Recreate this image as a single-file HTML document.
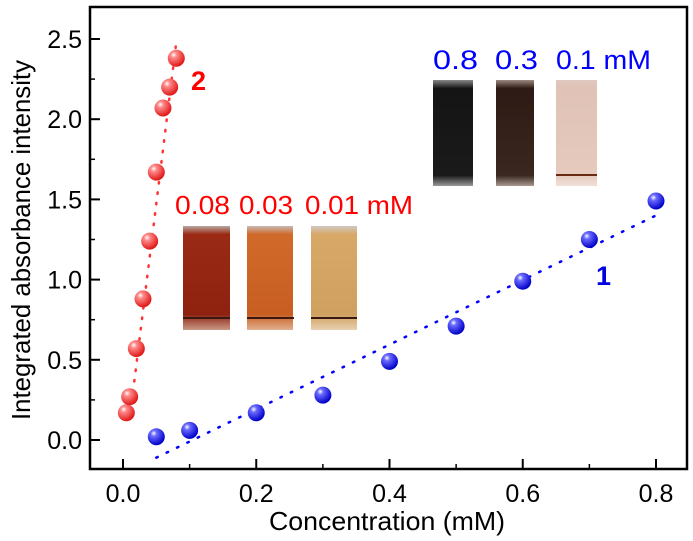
<!DOCTYPE html>
<html><head><meta charset="utf-8"><style>
body{margin:0;background:#fff;}
svg{display:block;font-family:"Liberation Sans",Arial,sans-serif;}
text{font-family:"Liberation Sans",Arial,sans-serif;}
</style></head><body>
<svg id="chart" width="693" height="541" viewBox="0 0 693 541">
<defs>
<radialGradient id="gr" cx="0.35" cy="0.3" r="0.7"><stop offset="0" stop-color="#fff"/><stop offset="0.25" stop-color="#ff8a8a"/><stop offset="1" stop-color="#e01818"/></radialGradient>
<radialGradient id="gb" cx="0.35" cy="0.3" r="0.7"><stop offset="0" stop-color="#fff"/><stop offset="0.25" stop-color="#6a6aff"/><stop offset="1" stop-color="#0000c8"/></radialGradient>
<linearGradient id="v1" x1="0" x2="0" y1="0" y2="1"><stop offset="0" stop-color="#b8a8a0"/><stop offset="0.08" stop-color="#9a2a14"/><stop offset="0.85" stop-color="#8e2210"/><stop offset="1" stop-color="#c89a86"/></linearGradient>
<linearGradient id="v2" x1="0" x2="0" y1="0" y2="1"><stop offset="0" stop-color="#c8b8b0"/><stop offset="0.08" stop-color="#d06a2a"/><stop offset="0.85" stop-color="#c85e22"/><stop offset="1" stop-color="#e0b090"/></linearGradient>
<linearGradient id="v3" x1="0" x2="0" y1="0" y2="1"><stop offset="0" stop-color="#d0c8c0"/><stop offset="0.08" stop-color="#d8a868"/><stop offset="0.85" stop-color="#d0a060"/><stop offset="1" stop-color="#e8d0b0"/></linearGradient>
<linearGradient id="v4" x1="0" x2="0" y1="0" y2="1"><stop offset="0" stop-color="#888"/><stop offset="0.08" stop-color="#141414"/><stop offset="0.9" stop-color="#1a1a1a"/><stop offset="1" stop-color="#999"/></linearGradient>
<linearGradient id="v5" x1="0" x2="0" y1="0" y2="1"><stop offset="0" stop-color="#9a8a80"/><stop offset="0.08" stop-color="#2e1a14"/><stop offset="0.9" stop-color="#3a2820"/><stop offset="1" stop-color="#a89890"/></linearGradient>
<linearGradient id="v6" x1="0" x2="0" y1="0" y2="1"><stop offset="0" stop-color="#e0c8c0"/><stop offset="0.08" stop-color="#e0c2b6"/><stop offset="0.9" stop-color="#e6cabe"/><stop offset="1" stop-color="#f0e0d8"/></linearGradient>
</defs>
<g id="insets">
<text x="175" y="214" fill="#f00" style="font-size:26px" textLength="55" lengthAdjust="spacingAndGlyphs">0.08</text>
<text x="239" y="214" fill="#f00" style="font-size:26px" textLength="54" lengthAdjust="spacingAndGlyphs">0.03</text>
<text x="305" y="214" fill="#f00" style="font-size:26px" textLength="108" lengthAdjust="spacingAndGlyphs">0.01 mM</text>
<rect x="183" y="226" width="47" height="104" fill="url(#v1)"/>
<rect x="247" y="226" width="46" height="104" fill="url(#v2)"/>
<rect x="311" y="226" width="46" height="104" fill="url(#v3)"/>
<line x1="183" y1="318" x2="357" y2="318" stroke="#3a1a10" stroke-width="2" stroke-dasharray="47 17"/>
<text x="433" y="69" fill="#00f" style="font-size:27px" textLength="45" lengthAdjust="spacingAndGlyphs">0.8</text>
<text x="495" y="69" fill="#00f" style="font-size:27px" textLength="43" lengthAdjust="spacingAndGlyphs">0.3</text>
<text x="556" y="69" fill="#00f" style="font-size:27px" textLength="95" lengthAdjust="spacingAndGlyphs">0.1 mM</text>
<rect x="433" y="80" width="40" height="106" fill="url(#v4)"/>
<rect x="496" y="80" width="38" height="106" fill="url(#v5)"/>
<rect x="556" y="80" width="41" height="106" fill="url(#v6)"/>
<line x1="556" y1="175" x2="597" y2="175" stroke="#6a2a14" stroke-width="2"/>
</g>
<g id="axes"></g>
<g id="marks"></g>
<text x="191" y="90" fill="#f00" style="font-size:27px;font-weight:bold">2</text>
<text x="596" y="285" fill="#0000e0" style="font-size:27px;font-weight:bold">1</text>
<text x="387" y="530" text-anchor="middle" style="font-size:26px" textLength="236" lengthAdjust="spacingAndGlyphs">Concentration (mM)</text>
<text transform="translate(30,240) rotate(-90)" text-anchor="middle" style="font-size:26px" textLength="360" lengthAdjust="spacingAndGlyphs">Integrated absorbance intensity</text>
</svg>
<script>
const xTicks=[0,0.2,0.4,0.6,0.8];
const xTickLabels=["0.0","0.2","0.4","0.6","0.8"];
const yTicks=[0,0.5,1,1.5,2,2.5];
const yTickLabels=["0.0","0.5","1.0","1.5","2.0","2.5"];
const redX=[0.005,0.01,0.02,0.03,0.04,0.05,0.06,0.07,0.08];
const redY=[0.17,0.27,0.57,0.88,1.24,1.67,2.07,2.2,2.38];
const blueX=[0.05,0.1,0.2,0.3,0.4,0.5,0.6,0.7,0.8];
const blueY=[0.02,0.06,0.17,0.28,0.49,0.71,0.99,1.25,1.49];
const redFitX=[0.015,0.08];
const redFitY=[0.3,2.48];
const blueFitX=[0.05,0.8];
const blueFitY=[-0.11,1.4];
const X=v=>123+v*666.25;
const Y=v=>440-v*160.4;
const NS="http://www.w3.org/2000/svg";
function mk(t,a,p){const e=document.createElementNS(NS,t);for(const k in a)e.setAttribute(k,a[k]);p.appendChild(e);return e;}
const ax=document.getElementById('axes'),mg=document.getElementById('marks');
let fr=mk('rect',{x:90,y:7,width:597,height:462,fill:'none',stroke:'#000','stroke-width':2.5},ax);


xTicks.forEach((v,i)=>{
 let t=mk('line',{x1:X(v),x2:X(v),y1:469,y2:459,stroke:'#000','stroke-width':2},ax);
 
 
 let m=mk('line',{x1:X(v+0.1),x2:X(v+0.1),y1:469,y2:464,stroke:'#000','stroke-width':1.5},ax);
 
 
 let l=mk('text',{x:X(v),y:502,'text-anchor':'middle',style:'font-size:25px'},ax);l.textContent=xTickLabels[i];
 
 
});
yTicks.forEach((v,i)=>{
 let t=mk('line',{x1:90,x2:100,y1:Y(v),y2:Y(v),stroke:'#000','stroke-width':2},ax);
 
 
 let m=mk('line',{x1:90,x2:95,y1:Y(v+0.25),y2:Y(v+0.25),stroke:'#000','stroke-width':1.5},ax);
 
 
 let l=mk('text',{x:82,y:Y(v)+9,'text-anchor':'end',style:'font-size:25px'},ax);l.textContent=yTickLabels[i];
 
 
});
let rf=mk('line',{x1:X(redFitX[0]),y1:Y(redFitY[0]),x2:X(redFitX[1]),y2:Y(redFitY[1]),stroke:'#f33','stroke-width':2.5,'stroke-dasharray':'1.5 9','stroke-linecap':'round'},mg);


let bf=mk('line',{x1:X(blueFitX[0]),y1:Y(blueFitY[0]),x2:X(blueFitX[1]),y2:Y(blueFitY[1]),stroke:'#00f','stroke-width':2.5,'stroke-dasharray':'1.5 10','stroke-linecap':'round'},mg);


redX.forEach((x,i)=>{
 let c=mk('circle',{cx:X(x),cy:Y(redY[i]),r:8.5,fill:'url(#gr)'},mg);
 
 
});
blueX.forEach((x,i)=>{
 let c=mk('circle',{cx:X(x),cy:Y(blueY[i]),r:8.5,fill:'url(#gb)'},mg);
 
 
});
</script>
</body></html>
